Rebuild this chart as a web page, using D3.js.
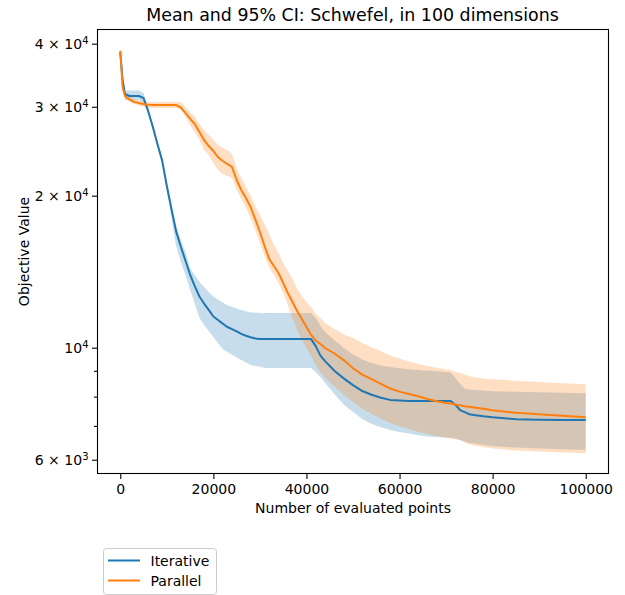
<!DOCTYPE html>
<html><head><meta charset="utf-8">
<script src="https://cdn.jsdelivr.net/npm/d3@7"></script>
<style>
body{margin:0;background:#fff}
svg{display:block}
text{font-family:"DejaVu Sans",sans-serif;fill:#000}
</style>
</head><body>
<svg id="c" width="625" height="595"></svg>
<script>
// ---- data ----
const evaluations = [0,500,1000,2000,3000,4000,5000,6000,7000,8000,9000,10000,11000,12000,13000,14000,15000,16000,17000,18000,19000,20000,21000,22000,23000,24000,25000,26000,27000,28000,29000,30000,31000,32000,33000,34000,35000,36000,37000,38000,39000,40000,41000,42000,43000,44000,46000,48000,50000,52000,54000,56000,58000,60000,62000,64000,66000,68000,70000,71000,72000,73000,74000,75000,76000,78000,80000,85000,90000,95000,100000];

const iterativeMean = [38500,33900,31800,31510,31510,31510,31230,29400,27350,25290,23470,20900,18820,17000,15860,14880,13950,13240,12630,12230,11880,11530,11350,11160,10990,10880,10770,10650,10560,10490,10430,
10400,10400,10400,10400,10400,10400,10400,10400,10400,10400,10400,10400,
10070,9647,9408,9000,8695,8430,8207,8069,7962,7882,7860,7844,7844,7844,7844,7844,
7844,7704,7526,7452,7384,7357,7314,7280,7217,7200,7190,7190];

const iterativeUpper = [38800,34300,32300,32300,32300,32300,31950,29740,27660,25580,23740,21190,19170,17420,16340,15470,14380,13930,13490,13190,12890,12630,12460,12290,12140,12050,11950,11870,11810,11740,11740,
11720,11720,11720,11720,11720,11720,11720,11720,11720,11720,11720,11720,
11450,11040,10740,10360,9986,9694,9476,9326,9221,9158,9104,9063,9034,9001,8981,8951,
8931,8710,8475,8302,8264,8245,8226,8200,8178,8159,8140,8122];

const iterativeLower = [38200,33600,30940,30940,30940,30940,30520,29070,27040,25000,23200,20520,18060,15900,14780,13930,13030,12240,11470,11090,10790,10500,10220,9940,9802,9681,9567,9455,9343,9241,9200,
9171,9117,9117,9117,9117,9117,9117,9117,9117,9117,9117,9117,
8951,8750,8513,8097,7718,7459,7224,7063,6961,6871,6809,6759,6710,6674,6656,6640,
6631,6610,6565,6521,6485,6461,6416,6379,6341,6315,6292,6272];

const parallelMean = [38730,32830,31510,31010,30670,30520,30380,30290,30240,30240,30240,30240,30240,30240,
29900,29180,28410,27730,26740,25780,25080,24520,23850,23430,23110,22800,21480,20530,19790,18990,17980,16950,15900,14990,14510,14060,13430,12830,12320,11820,11400,10990,10600,
10330,10170,9986,9739,9450,9104,8846,8662,8483,8300,8186,8097,8013,7914,7832,7771,
7754,7718,7694,7659,7638,7617,7568,7519,7431,7380,7336,7280];

const parallelUpper = [39040,33290,31950,31370,31010,30870,30730,30660,30660,30660,30660,30660,30660,30660,30660,
29960,29290,28700,27730,26990,26380,25840,25200,24860,24640,24190,22690,21680,20810,20070,19080,18320,17580,16800,15970,15400,14710,14190,13680,13070,12660,12320,12040,
11660,11450,11190,10890,10620,10450,10220,10010,9851,9651,9520,9391,9284,9200,9129,9054,
9020,8960,8910,8854,8777,8737,8693,8661,8603,8551,8500,8462];

const parallelLower = [38420,32540,31150,30660,30340,30170,30030,29830,29830,29830,29830,29830,29830,29830,
29630,28630,27610,26740,25780,24640,24080,23210,22480,22080,21880,21680,20530,19700,18900,18060,17110,16120,15190,14440,13930,13430,12830,12150,11450,10840,10360,9986,9629,
9241,8951,8710,8379,8079,7808,7562,7391,7234,7085,6991,6903,6819,6741,6684,6631,
6610,6585,6565,6491,6432,6402,6359,6315,6258,6230,6201,6179];

const seriesNames = ["Iterative", "Parallel"];
const seriesColors = ["#1f77b4", "#ff7f0e"];
const xTickValues = [0, 20000, 40000, 60000, 80000, 100000];
const yTickValues = [6000, 10000, 20000, 30000, 40000];
const yTickMantissa = ["6 × 10", "10", "2 × 10", "3 × 10", "4 × 10"];
const yTickExponent = ["3", "4", "4", "4", "4"];
const yMinorTickValues = [7000, 8000, 9000];
const titleText = "Mean and 95% CI: Schwefel, in 100 dimensions";
const xLabelText = "Number of evaluated points";
const yLabelText = "Objective Value";

// ---- layout ----
const plot = {left: 97, right: 609, top: 29, bottom: 474};
const svg = d3.select("#c");
const x = d3.scaleLinear().domain([-5000, 105000]).range([plot.left, plot.right]);
const y = d3.scaleLog().domain([5622, 42770]).range([plot.bottom, plot.top]);

const series = [
  {name: seriesNames[0], color: seriesColors[0], mean: iterativeMean, lo: iterativeLower, hi: iterativeUpper},
  {name: seriesNames[1], color: seriesColors[1], mean: parallelMean, lo: parallelLower, hi: parallelUpper}
].map(s => ({...s, pts: evaluations.map((e, i) => ({e, m: s.mean[i], lo: s.lo[i], hi: s.hi[i]}))}));

svg.append("defs").append("clipPath").attr("id", "clip")
  .append("rect").attr("x", plot.left).attr("y", plot.top)
  .attr("width", plot.right - plot.left).attr("height", plot.bottom - plot.top);

const g = svg.append("g").attr("clip-path", "url(#clip)");
const area = d3.area().x(d => x(d.e)).y0(d => y(d.lo)).y1(d => y(d.hi));
const line = d3.line().x(d => x(d.e)).y(d => y(d.m));

series.forEach(s => {
  g.append("path").datum(s.pts).attr("d", area).attr("fill", s.color).attr("fill-opacity", 0.25);
});
series.forEach(s => {
  g.append("path").datum(s.pts).attr("d", line).attr("fill", "none")
    .attr("stroke", s.color).attr("stroke-width", 2).attr("stroke-linejoin", "round");
});

// frame
svg.append("rect").attr("x", plot.left + 0.5).attr("y", plot.top + 0.5)
  .attr("width", plot.right - plot.left - 1).attr("height", plot.bottom - plot.top - 1)
  .attr("fill", "none").attr("stroke", "#000").attr("stroke-width", 1.1);

// x axis
const xAxis = d3.axisBottom(x).tickValues(xTickValues).tickSize(5).tickPadding(5)
  .tickFormat(d3.format("d"));
const xg = svg.append("g").attr("transform", `translate(0,${plot.bottom})`).call(xAxis);
xg.select(".domain").remove();
xg.selectAll(".tick line").attr("stroke", "#000").attr("stroke-width", 1.1);
xg.selectAll(".tick text").attr("font-size", 14).attr("font-family", "DejaVu Sans").attr("fill", "#000");

// y axis (log) major/minor ticks
const yAxis = d3.axisLeft(y).tickValues(yTickValues).tickSize(5).tickFormat(() => "");
const yg = svg.append("g").attr("transform", `translate(${plot.left},0)`).call(yAxis);
yg.select(".domain").remove();
yg.selectAll(".tick line").attr("stroke", "#000").attr("stroke-width", 1.1);
const yMinor = d3.axisLeft(y).tickValues(yMinorTickValues).tickSize(3).tickFormat(() => "");
const ymg = svg.append("g").attr("transform", `translate(${plot.left},0)`).call(yMinor);
ymg.select(".domain").remove();
ymg.selectAll(".tick line").attr("stroke", "#000").attr("stroke-width", 1.1);

yTickValues.forEach((v, i) => {
  const t = svg.append("text").attr("x", 88.5).attr("y", y(v) + 5.5)
    .attr("text-anchor", "end").attr("font-size", 14).attr("xml:space", "preserve");
  t.append("tspan").text(yTickMantissa[i]);
  t.append("tspan").attr("font-size", 10).attr("dy", -5.5).text(yTickExponent[i]);
});

// titles
svg.append("text").attr("x", (plot.left + plot.right) / 2 - 0.5).attr("y", 21)
  .attr("text-anchor", "middle").attr("font-size", 17.4).text(titleText);
svg.append("text").attr("x", (plot.left + plot.right) / 2).attr("y", 513)
  .attr("text-anchor", "middle").attr("font-size", 14).text(xLabelText);
svg.append("text").attr("transform", `translate(28.5,${(plot.top + plot.bottom) / 2}) rotate(-90)`)
  .attr("text-anchor", "middle").attr("font-size", 14).text(yLabelText);

// legend
const lg = svg.append("g");
lg.append("rect").attr("x", 103.5).attr("y", 548.5).attr("width", 113).attr("height", 46)
  .attr("rx", 3).attr("fill", "#fff").attr("fill-opacity", 0.8).attr("stroke", "#cccccc");
series.forEach((s, i) => {
  const yy = 560.5 + i * 20;
  lg.append("line").attr("x1", 108).attr("x2", 140).attr("y1", yy).attr("y2", yy)
    .attr("stroke", s.color).attr("stroke-width", 2);
  lg.append("text").attr("x", 150.5).attr("y", yy + 5).attr("font-size", 14).text(s.name);
});
</script>
</body></html>
